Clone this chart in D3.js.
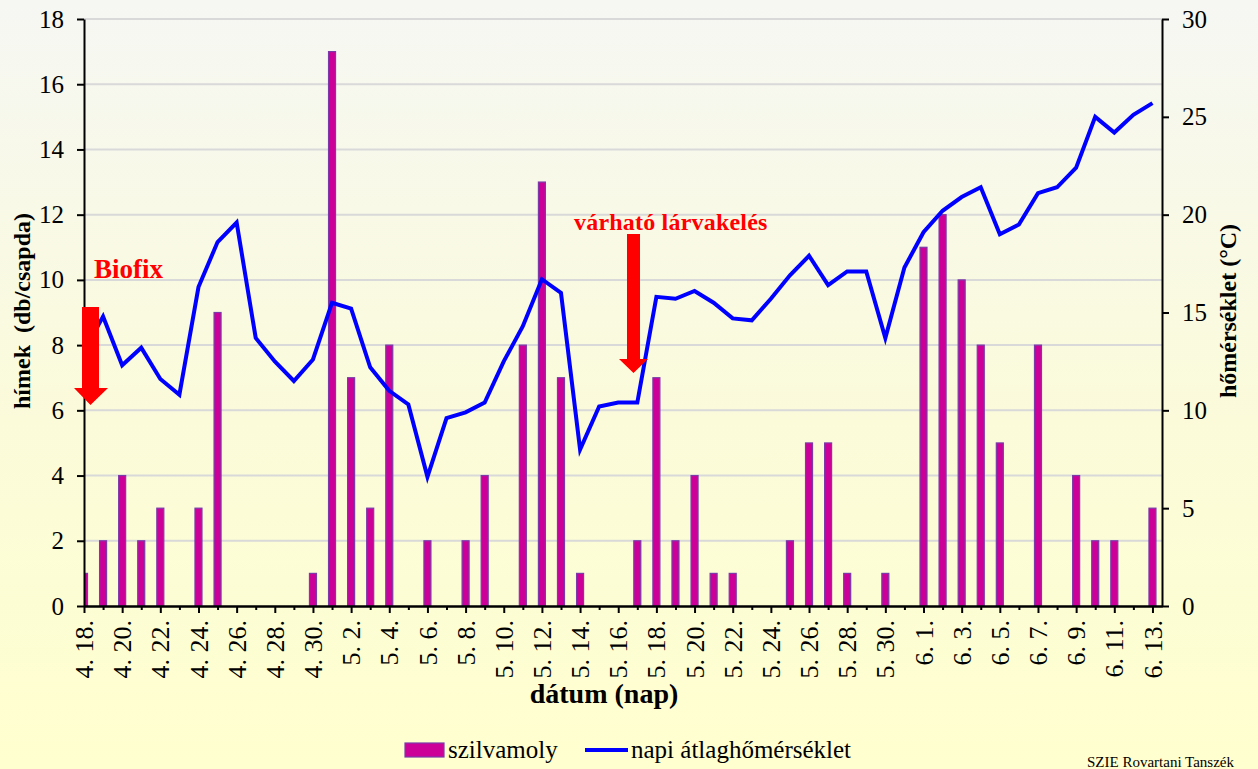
<!DOCTYPE html>
<html>
<head>
<meta charset="utf-8">
<script src="https://cdn.jsdelivr.net/npm/d3@7/dist/d3.min.js"></script>
<style>
  body { margin: 0; background: #fdfdd3; }
  svg text { font-family: "Liberation Serif", "DejaVu Serif", serif; }
</style>
</head>
<body>
<div id="chart"></div>
<script>
// napi adatok 4.18 - 6.13
var dates = [
  "4. 18.", "4. 19.", "4. 20.", "4. 21.", "4. 22.", "4. 23.", "4. 24.", "4. 25.", "4. 26.", "4. 27.",
  "4. 28.", "4. 29.", "4. 30.", "5. 1.", "5. 2.", "5. 3.", "5. 4.", "5. 5.", "5. 6.", "5. 7.",
  "5. 8.", "5. 9.", "5. 10.", "5. 11.", "5. 12.", "5. 13.", "5. 14.", "5. 15.", "5. 16.", "5. 17.",
  "5. 18.", "5. 19.", "5. 20.", "5. 21.", "5. 22.", "5. 23.", "5. 24.", "5. 25.", "5. 26.", "5. 27.",
  "5. 28.", "5. 29.", "5. 30.", "5. 31.", "6. 1.", "6. 2.", "6. 3.", "6. 4.", "6. 5.", "6. 6.",
  "6. 7.", "6. 8.", "6. 9.", "6. 10.", "6. 11.", "6. 12.", "6. 13."
];

// szilvamoly himek (db/csapda)
var moths = [
  1, 2, 4, 2, 3, 0, 3, 9, 0, 0,
  0, 0, 1, 17, 7, 3, 8, 0, 2, 0,
  2, 4, 0, 8, 13, 7, 1, 0, 0, 2,
  7, 2, 4, 1, 1, 0, 0, 2, 5, 5,
  1, 0, 1, 0, 11, 12, 10, 8, 5, 0,
  8, 0, 4, 2, 2, 0, 3
];

// napi atlaghomerseklet (C)
var temps = [
  13.0, 14.8, 12.3, 13.2, 11.6, 10.8, 16.3, 18.6, 19.6, 13.7,
  12.5, 11.5, 12.6, 15.5, 15.2, 12.2, 11.0, 10.3, 6.6, 9.6,
  9.9, 10.4, 12.5, 14.3, 16.7, 16.0, 8.0, 10.2, 10.4, 10.4,
  15.8, 15.7, 16.1, 15.5, 14.7, 14.6, 15.7, 16.9, 17.9, 16.4,
  17.1, 17.1, 13.7, 17.3, 19.1, 20.2, 20.9, 21.4, 19.0, 19.5,
  21.1, 21.4, 22.4, 25.0, 24.2, 25.1, 25.7
];

var leftTicks = [0, 2, 4, 6, 8, 10, 12, 14, 16, 18];
var rightTicks = [0, 5, 10, 15, 20, 25, 30];

var width = 1258, height = 769;
var plot = {left: 84, right: 1162, top: 19, bottom: 606};
var serif = "Liberation Serif, DejaVu Serif, serif";

var svg = d3.select("#chart").append("svg")
  .attr("width", width)
  .attr("height", height)
  .attr("font-family", serif);

var defs = svg.append("defs");
var grad = defs.append("linearGradient")
  .attr("id", "bg")
  .attr("x1", 0).attr("y1", 0).attr("x2", 0).attr("y2", 1);
grad.append("stop").attr("offset", "0%").attr("stop-color", "#f6f7f3");
grad.append("stop").attr("offset", "55%").attr("stop-color", "#fbfbda");
grad.append("stop").attr("offset", "100%").attr("stop-color", "#ffffcf");

defs.append("clipPath").attr("id", "plotclip")
  .append("rect")
  .attr("x", plot.left).attr("y", 0)
  .attr("width", plot.right - plot.left).attr("height", plot.bottom);

svg.append("rect")
  .attr("width", width).attr("height", height)
  .attr("fill", "url(#bg)");

var x = d3.scaleLinear()
  .domain([0, dates.length - 0.5])
  .range([plot.left, plot.right]);
var yL = d3.scaleLinear().domain([0, 18]).range([plot.bottom, plot.top]);
var yR = d3.scaleLinear().domain([0, 30]).range([plot.bottom, plot.top]);

// gridlines
svg.append("g")
  .selectAll("line")
  .data(leftTicks.slice(1))
  .enter().append("line")
  .attr("x1", plot.left).attr("x2", plot.right)
  .attr("y1", function(d) { return yL(d); })
  .attr("y2", function(d) { return yL(d); })
  .attr("stroke", "#d9d9d9")
  .attr("stroke-width", 2);

// bars
var barW = 7;
svg.append("g")
  .attr("clip-path", "url(#plotclip)")
  .selectAll("rect")
  .data(moths)
  .enter().append("rect")
  .attr("x", function(d, i) { return x(i) - barW / 2; })
  .attr("y", function(d) { return yL(d); })
  .attr("width", barW)
  .attr("height", function(d) { return yL(0) - yL(d); })
  .attr("fill", "#cc0099")
  .attr("stroke", "#7a3aa8")
  .attr("stroke-width", 1.2);

// temperature line
var line = d3.line()
  .x(function(d, i) { return x(i); })
  .y(function(d) { return yR(d); });

svg.append("path")
  .datum(temps)
  .attr("d", line)
  .attr("fill", "none")
  .attr("stroke", "#0000ff")
  .attr("stroke-width", 4)
  .attr("stroke-linejoin", "miter");

// axes
var idx = d3.range(dates.length);

var xMinor = d3.axisBottom(x)
  .tickValues(idx.filter(function(i) { return i % 2 == 1; }))
  .tickSize(4).tickSizeOuter(0)
  .tickFormat("");
var xMajor = d3.axisBottom(x)
  .tickValues(idx.filter(function(i) { return i % 2 == 0; }))
  .tickSize(7).tickSizeOuter(0)
  .tickFormat(function(i) { return dates[i]; });

svg.append("g")
  .attr("transform", "translate(0," + plot.bottom + ")")
  .call(xMinor)
  .call(styleAxis);

var gx = svg.append("g")
  .attr("transform", "translate(0," + plot.bottom + ")")
  .call(xMajor)
  .call(styleAxis);

gx.selectAll(".tick text")
  .attr("font-size", 26)
  .attr("text-anchor", "end")
  .attr("y", 0)
  .attr("dy", "0.33em")
  .attr("transform", "translate(0,14) rotate(-90)");

var gl = svg.append("g")
  .attr("transform", "translate(" + plot.left + ",0)")
  .call(d3.axisLeft(yL).tickValues(leftTicks).tickSize(7).tickPadding(13).tickSizeOuter(0))
  .call(styleAxis);
gl.selectAll(".tick text").attr("font-size", 25);

var gr = svg.append("g")
  .attr("transform", "translate(" + plot.right + ",0)")
  .call(d3.axisRight(yR).tickValues(rightTicks).tickSize(7).tickPadding(13).tickSizeOuter(0))
  .call(styleAxis);
gr.selectAll(".tick text").attr("font-size", 25);

function styleAxis(g) {
  g.attr("font-family", serif);
  g.select(".domain").attr("stroke", "#000").attr("stroke-width", 2);
  g.selectAll(".tick line").attr("stroke", "#000").attr("stroke-width", 2);
  g.selectAll(".tick text").attr("fill", "#000");
}

// axis titles
svg.append("text")
  .attr("transform", "translate(30,311) rotate(-90)")
  .attr("text-anchor", "middle")
  .attr("font-size", 24)
  .attr("font-weight", "bold")
  .style("white-space", "pre")
  .text("hímek  (db/csapda)");

svg.append("text")
  .attr("transform", "translate(1236,311) rotate(-90)")
  .attr("text-anchor", "middle")
  .attr("font-size", 24)
  .attr("font-weight", "bold")
  .text("hőmérséklet (°C)");

svg.append("text")
  .attr("x", 604).attr("y", 703)
  .attr("text-anchor", "middle")
  .attr("font-size", 28)
  .attr("font-weight", "bold")
  .text("dátum (nap)");

// annotations
function arrow(x0, x1, top, headY, headL, headR, tipY) {
  var cx = (x0 + x1) / 2;
  return "M" + x0 + "," + top + "H" + x1 + "V" + headY + "H" + headR +
    "L" + cx + "," + tipY + "L" + headL + "," + headY + "H" + x0 + "Z";
}

svg.append("path")
  .attr("d", arrow(82, 99, 307, 388, 74, 108, 405))
  .attr("fill", "#ff0000");

svg.append("path")
  .attr("d", arrow(627, 640, 234, 359, 619, 648, 373))
  .attr("fill", "#ff0000");

svg.append("text")
  .attr("x", 94).attr("y", 278)
  .attr("font-size", 27)
  .attr("font-weight", "bold")
  .attr("fill", "#ff0000")
  .text("Biofix");

svg.append("text")
  .attr("x", 574).attr("y", 230)
  .attr("font-size", 24)
  .attr("font-weight", "bold")
  .attr("letter-spacing", 0.2)
  .attr("fill", "#ff0000")
  .text("várható lárvakelés");

// legend
var legend = svg.append("g");
legend.append("rect")
  .attr("x", 405).attr("y", 743)
  .attr("width", 39).attr("height", 14)
  .attr("fill", "#cc0099")
  .attr("stroke", "#7a3aa8")
  .attr("stroke-width", 1.2);
legend.append("text")
  .attr("x", 448).attr("y", 758)
  .attr("font-size", 25)
  .text("szilvamoly");
legend.append("line")
  .attr("x1", 585).attr("x2", 628)
  .attr("y1", 750).attr("y2", 750)
  .attr("stroke", "#0000ff")
  .attr("stroke-width", 4);
legend.append("text")
  .attr("x", 631).attr("y", 758)
  .attr("font-size", 25)
  .text("napi átlaghőmérséklet");

svg.append("text")
  .attr("x", 1087).attr("y", 767)
  .attr("font-size", 15)
  .text("SZIE Rovartani Tanszék");
</script>
</body>
</html>
